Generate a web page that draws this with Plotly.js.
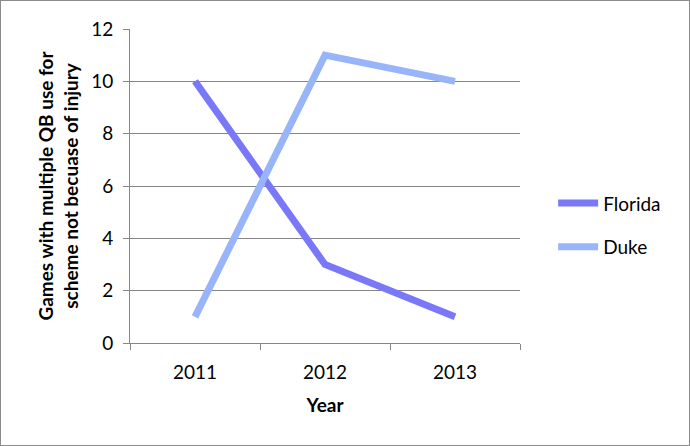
<!DOCTYPE html>
<html>
<head>
<meta charset="utf-8">
<script src="https://cdn.plot.ly/plotly-3.0.1.min.js"></script>
<style>
html,body{margin:0;padding:0;background:#fff;}
#wrap{position:relative;width:690px;height:446px;}
#chart{width:690px;height:446px;}
#frame{position:absolute;left:0;top:0;width:690px;height:446px;box-sizing:border-box;border:1px solid #8c8c8c;pointer-events:none;}
</style>
</head>
<body>
<div id="wrap"><div id="chart"></div><div id="frame"></div></div>
<script>
var years = ['2011', '2012', '2013'];
var florida = [10, 3, 1];
var duke = [1, 11, 10];
var yTicks = [0, 2, 4, 6, 8, 10, 12];

var font = 'Lato, "Open Sans", sans-serif';

var traces = [
  {x: years, y: florida, name: 'Florida', type: 'scatter', mode: 'lines',
   line: {color: '#7878f8', width: 7}, legendgroup: 'a'},
  {x: years, y: duke, name: 'Duke', type: 'scatter', mode: 'lines',
   line: {color: '#98b4fa', width: 7}, legendgroup: 'b'}
];

var layout = {
  width: 690, height: 446,
  margin: {l: 130, r: 170, t: 29, b: 103},
  paper_bgcolor: '#fff', plot_bgcolor: '#fff',
  font: {family: font, size: 19, color: '#000'},
  showlegend: true,
  legend: {x: 1.085, xanchor: 'left', y: 0.375, yanchor: 'middle',
           font: {family: font, size: 19, color: '#000'},
           traceorder: 'grouped', tracegroupgap: 16, itemwidth: 40},
  xaxis: {
    type: 'category', range: [-0.5, 2.5],
    showline: true, linecolor: '#868686', linewidth: 1,
    ticks: 'outside', tickson: 'boundaries', ticklen: 6, tickcolor: '#868686',
    ticklabelstandoff: 12,
    showgrid: false, zeroline: false,
    tickfont: {family: font, size: 19},
    title: {text: '<b>Year</b>', font: {family: font, size: 19}, standoff: 16}
  },
  yaxis: {
    range: [0, 12], tickvals: yTicks, ticktext: yTicks.map(String),
    showline: true, linecolor: '#868686', linewidth: 1,
    ticks: 'outside', ticklen: 6, tickcolor: '#868686',
    ticklabelstandoff: 6,
    showgrid: true, gridcolor: '#868686', gridwidth: 1, zeroline: false,
    tickfont: {family: font, size: 19},
    title: {text: '<b>Games with multiple QB use for<br>scheme not becuase of injury</b>',
            font: {family: font, size: 19}, standoff: 7}
  }
};

Plotly.newPlot('chart', traces, layout, {displayModeBar: false, staticPlot: true});
</script>
</body>
</html>
